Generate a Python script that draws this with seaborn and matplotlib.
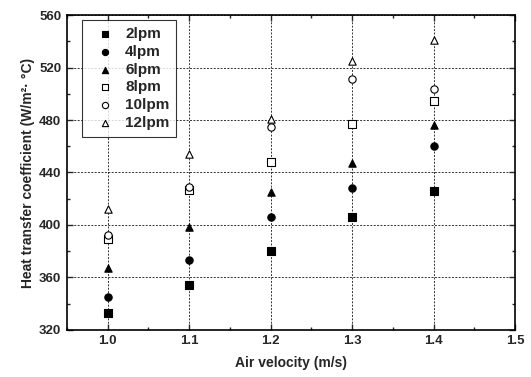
import matplotlib
matplotlib.use("Agg")
import matplotlib.pyplot as plt
from matplotlib.ticker import MultipleLocator
import seaborn as sns
import pandas as pd

sns.set_style("ticks")
plt.rcParams['font.family'] = ['Liberation Sans', 'DejaVu Sans']
plt.rcParams['font.weight'] = 'bold'

air_velocity = [1.0, 1.1, 1.2, 1.3, 1.4]
series_names = ["2lpm", "4lpm", "6lpm", "8lpm", "10lpm", "12lpm"]
h_2lpm = [333, 354, 380, 406, 426]
h_4lpm = [345, 373, 406, 428, 460]
h_6lpm = [367, 398.5, 425, 447.5, 476]
h_8lpm = [389, 426.5, 448, 477, 494.5]
h_10lpm = [392, 429, 475, 511, 504]
h_12lpm = [412.5, 454, 481, 525, 541]
values = [h_2lpm, h_4lpm, h_6lpm, h_8lpm, h_10lpm, h_12lpm]
markers = ["s", "o", "^", "s", "o", "^"]
filled = [True, True, True, False, False, False]

fig = plt.figure(figsize=(5.31, 3.77), dpi=100)
ax = fig.add_axes([0.126, 0.125, 0.844, 0.835])

for name, vals, m, f in zip(series_names, values, markers, filled):
    df = pd.DataFrame({"v": air_velocity, "h": vals})
    sns.scatterplot(data=df, x="v", y="h", ax=ax, marker=m, s=28,
                    color="black" if f else "white",
                    edgecolor="black", linewidth=0.8, label=name, zorder=3)

ax.set_xlim(0.95, 1.5)
ax.set_ylim(320, 560)
ax.xaxis.set_major_locator(MultipleLocator(0.1))
ax.xaxis.set_minor_locator(MultipleLocator(0.05))
ax.yaxis.set_major_locator(MultipleLocator(40))
ax.yaxis.set_minor_locator(MultipleLocator(20))
ax.xaxis.set_major_formatter(matplotlib.ticker.FormatStrFormatter('%.1f'))
ax.tick_params(which='both', direction='in', top=True, right=True, labelsize=9.5, width=1)
ax.tick_params(which='major', length=4, pad=4)
ax.tick_params(which='minor', length=2.5)
for lab in ax.get_xticklabels() + ax.get_yticklabels():
    lab.set_fontweight('bold')
ax.grid(True, which='major', color='black', linestyle=(0, (2, 1.5)), linewidth=0.7, alpha=0.8)
ax.set_axisbelow(True)
for sp in ax.spines.values():
    sp.set_linewidth(1.2)
    sp.set_color('black')

ax.set_xlabel("Air velocity (m/s)", fontsize=10, fontweight='bold', labelpad=6)
ax.set_ylabel("Heat transfer coefficient (W/m²· °C)", fontsize=10, fontweight='bold', labelpad=3)

leg = ax.legend(loc='upper left', bbox_to_anchor=(0.033, 0.984), borderaxespad=0,
                frameon=True, fancybox=False,
                edgecolor='black', prop={'weight': 'bold', 'size': 11},
                handletextpad=0.3, labelspacing=0.25, borderpad=0.45, handlelength=2.1,
                markerscale=0.85)
leg.get_frame().set_linewidth(0.8)

fig.savefig("out.png", dpi=100)
